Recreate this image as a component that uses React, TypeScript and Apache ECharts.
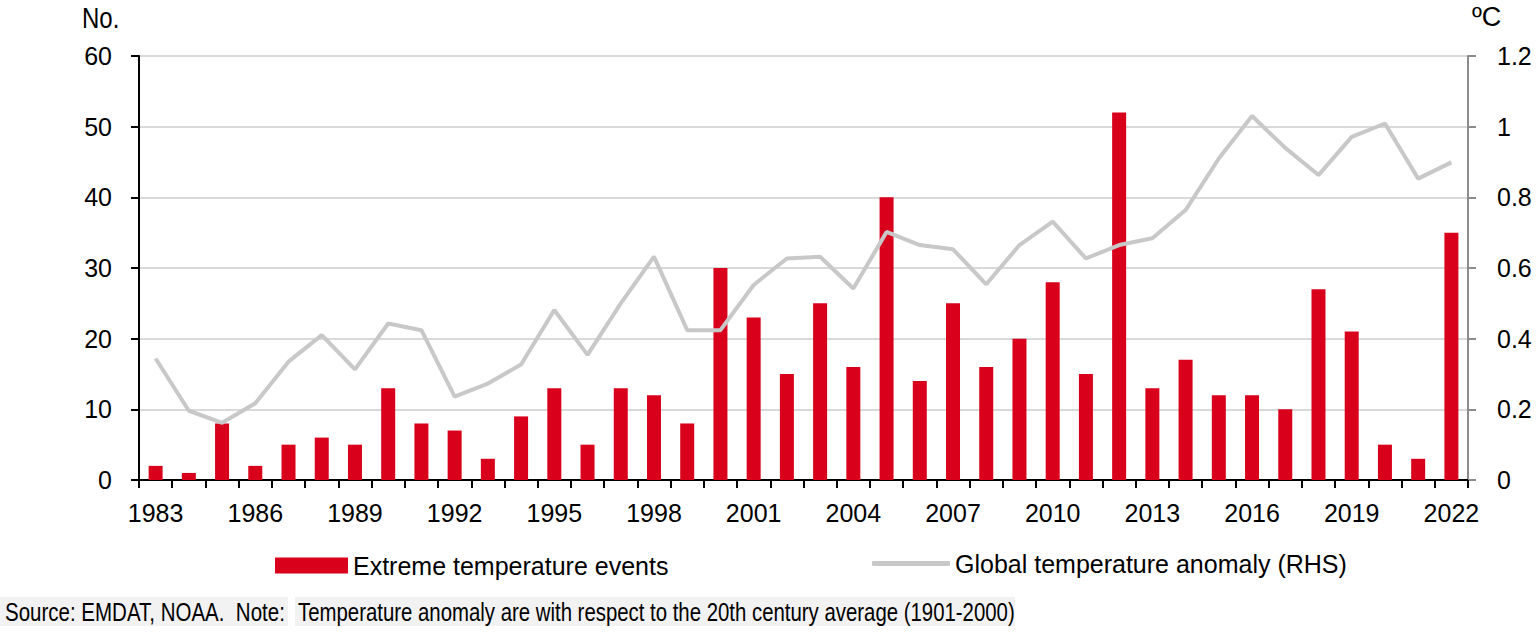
import React, { useEffect, useRef } from "react";
import * as echarts from "echarts";

const years = [
  "1983", "1984", "1985", "1986", "1987", "1988", "1989", "1990", "1991", "1992",
  "1993", "1994", "1995", "1996", "1997", "1998", "1999", "2000", "2001", "2002",
  "2003", "2004", "2005", "2006", "2007", "2008", "2009", "2010", "2011", "2012",
  "2013", "2014", "2015", "2016", "2017", "2018", "2019", "2020", "2021", "2022",
];

const extremeEvents = [
  2, 1, 8, 2, 5, 6, 5, 13, 8, 7,
  3, 9, 13, 5, 13, 12, 8, 30, 23, 15,
  25, 16, 40, 14, 25, 16, 20, 28, 15, 52,
  13, 17, 12, 12, 10, 27, 21, 5, 3, 35,
];

const tempAnomaly = [
  0.344, 0.196, 0.162, 0.217, 0.335, 0.41, 0.313, 0.443, 0.424, 0.236,
  0.273, 0.327, 0.481, 0.354, 0.5, 0.632, 0.424, 0.424, 0.552, 0.627,
  0.632, 0.542, 0.702, 0.665, 0.653, 0.554, 0.665, 0.731, 0.627, 0.665,
  0.684, 0.764, 0.91, 1.03, 0.94, 0.863, 0.971, 1.009, 0.853, 0.899,
];

const barName = "Extreme temperature events";
const lineName = "Global temperature anomaly (RHS)";
const leftUnit = "No.";
const rightUnit = "ºC";
const sourceText = "Source: EMDAT, NOAA.  Note:";
const noteText = "Temperature anomaly are with respect to the 20th century average (1901-2000)";

const FONT = "Liberation Sans, Arial, Helvetica, sans-serif";

export default function App() {
  const ref = useRef<HTMLDivElement>(null);

  useEffect(() => {
    if (!ref.current) return;
    const chart = echarts.init(ref.current, null, { renderer: "svg" });
    chart.setOption({
      animation: false,
      backgroundColor: "#ffffff",
      textStyle: { fontFamily: FONT, color: "#000" },
      grid: { left: 139, right: 69, top: 56, bottom: 152, containLabel: false },
      legend: [
        {
          data: [{ name: barName, icon: "rect" }],
          left: 270,
          top: 548,
          itemWidth: 73,
          itemHeight: 16,
          textStyle: { fontSize: 25, color: "#000", fontFamily: FONT },
          selectedMode: false,
        },
        {
          data: [{ name: lineName, icon: "roundRect", itemStyle: { color: "#c8c8c8" } }],
          left: 867,
          top: 546,
          itemWidth: 78,
          itemHeight: 5,
          textStyle: { fontSize: 25, color: "#000", fontFamily: FONT },
          selectedMode: false,
        },
      ],
      xAxis: {
        type: "category",
        data: years,
        boundaryGap: true,
        axisLine: { show: true, lineStyle: { color: "#000", width: 2 } },
        axisTick: { show: true, interval: 0, length: 8, lineStyle: { color: "#000", width: 2 } },
        axisLabel: { interval: 2, fontSize: 25, color: "#000", margin: 20, fontFamily: FONT },
        splitLine: { show: false },
      },
      yAxis: [
        {
          type: "value",
          min: 0,
          max: 60,
          interval: 10,
          axisLine: { show: true, lineStyle: { color: "#000", width: 2 } },
          axisTick: { show: true, length: 8, lineStyle: { color: "#000", width: 2 } },
          axisLabel: { fontSize: 25, color: "#000", margin: 27, fontFamily: FONT },
          splitLine: { show: true, lineStyle: { color: "#d9d9d9", width: 2 } },
        },
        {
          type: "value",
          position: "right",
          min: 0,
          max: 1.2,
          interval: 0.2,
          axisLine: { show: true, lineStyle: { color: "#8c8c8c", width: 2 } },
          axisTick: { show: true, length: 8, lineStyle: { color: "#8c8c8c", width: 2 } },
          axisLabel: { fontSize: 25, color: "#000", margin: 29, fontFamily: FONT },
          splitLine: { show: false },
        },
      ],
      series: [
        {
          name: barName,
          type: "bar",
          data: extremeEvents,
          barWidth: 14,
          itemStyle: { color: "#d9001b" },
          z: 2,
        },
        {
          name: lineName,
          type: "line",
          yAxisIndex: 1,
          data: tempAnomaly,
          symbol: "none",
          lineStyle: { color: "#c8c8c8", width: 4 },
          itemStyle: { color: "#c8c8c8" },
          z: 3,
        },
      ],
      graphic: [
        {
          type: "text",
          x: 82,
          y: 2,
          scaleX: 0.8,
          style: { text: leftUnit, font: `30px ${FONT}`, fill: "#000", align: "left", verticalAlign: "top" },
        },
        {
          type: "text",
          x: 1472,
          y: 3,
          style: { text: rightUnit, font: `27px ${FONT}`, fill: "#000", align: "left", verticalAlign: "top" },
        },
        {
          type: "rect",
          shape: { x: 0, y: 597, width: 288, height: 29 },
          style: { fill: "#f2f2f2" },
        },
        {
          type: "rect",
          shape: { x: 295, y: 597, width: 720, height: 29 },
          style: { fill: "#f2f2f2" },
        },
        {
          type: "text",
          x: 5,
          y: 612,
          scaleX: 0.82,
          style: { text: sourceText, font: `25px ${FONT}`, fill: "#000", align: "left", verticalAlign: "middle" },
        },
        {
          type: "text",
          x: 298,
          y: 612,
          scaleX: 0.815,
          style: { text: noteText, font: `25px ${FONT}`, fill: "#000", align: "left", verticalAlign: "middle" },
        },
      ],
    });
    return () => chart.dispose();
  }, []);

  return (
    <div
      ref={ref}
      style={{ position: "fixed", left: 0, top: 0, width: 1537, height: 632, background: "#fff" }}
    />
  );
}
